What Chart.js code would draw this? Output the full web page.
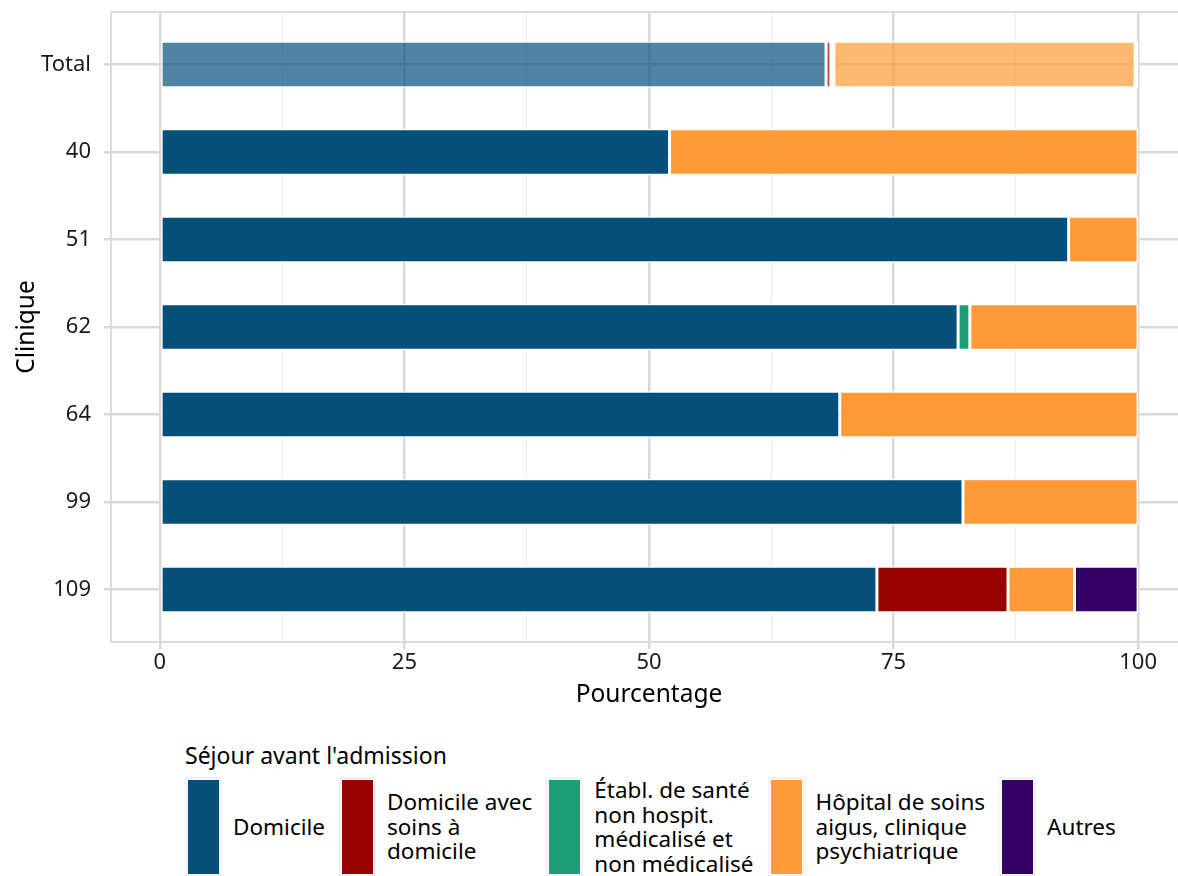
<!DOCTYPE html>
<html>
<head>
<meta charset="utf-8">
<script src="https://cdn.jsdelivr.net/npm/chart.js"></script>
<style>
  html, body { margin: 0; padding: 0; overflow: hidden; background: #fff; }
  #wrap { position: absolute; left: 0; top: 0; width: 1200px; height: 720px; }
  #legend { position: absolute; left: 185px; top: 740px; font-family: "Noto Sans", sans-serif; color: #000; }
  #legend .title { font-size: 23px; line-height: 30px; margin-bottom: 8px; }
  #legend .items { display: flex; align-items: center; }
  #legend .item { display: flex; align-items: center; margin-right: 14px; }
  #legend .key { width: 31px; height: 94px; margin: 0 14px 0 3px; outline: 2px solid #f2f2f2; outline-offset: 1px; }
  #legend .lab { font-size: 22.5px; line-height: 24.5px; }
</style>
</head>
<body>
<div id="wrap"><canvas id="sejourChart"></canvas></div>
<div id="legend"></div>
<script>
// Cliniques (de haut en bas)
const clinics = ['Total', '40', '51', '62', '64', '99', '109'];

// Part des séjours avant l'admission, en %
const domicile   = [68.1, 52.1, 92.9, 81.6, 69.5, 82.1, 73.3];
const soinsDom   = [0.5, 0, 0, 0, 0, 0, 13.4];
const etabl      = [0.3, 0, 0, 1.2, 0, 0, 0];
const hopital    = [30.8, 47.9, 7.1, 17.2, 30.5, 17.9, 6.8];
const autres     = [0.3, 0, 0, 0, 0, 0, 6.5];

const xTicks = [0, 12.5, 25, 37.5, 50, 62.5, 75, 87.5, 100];

const seriesNames = ['Domicile', 'Domicile avec\nsoins à\ndomicile', 'Établ. de santé\nnon hospit.\nmédicalisé et\nnon médicalisé', 'Hôpital de soins\naigus, clinique\npsychiatrique', 'Autres'];
const seriesColors = ['#05507b', '#990000', '#1c9e77', '#ff9a36', '#330066'];
const seriesData = [domicile, soinsDom, etabl, hopital, autres];

function hexToRgba(hex, a) {
    var r = parseInt(hex.substr(1, 2), 16), g = parseInt(hex.substr(3, 2), 16), b = parseInt(hex.substr(5, 2), 16);
    return 'rgba(' + r + ',' + g + ',' + b + ',' + a + ')';
}

const datasets = seriesData.map(function(vals, k) {
    return {
        label: seriesNames[k].replace(/\n/g, ' '),
        data: vals.map(function(v, i) { return { x: v, y: i }; }),
        // la ligne Total est légèrement transparente
        backgroundColor: vals.map(function(v, i) { return i === 0 ? hexToRgba(seriesColors[k], 0.7) : seriesColors[k]; }),
        borderColor: '#ffffff',
        borderWidth: 1.5,
        borderSkipped: false,
        barPercentage: 0.53,
        categoryPercentage: 1
    };
});

// bordure du panneau
const panelBorder = {
    id: 'panelBorder',
    beforeDatasetsDraw: function(chart) {
        var a = chart.chartArea, c = chart.ctx;
        c.save();
        c.strokeStyle = '#dcdcdc';
        c.lineWidth = 2;
        c.strokeRect(a.left, a.top, a.right - a.left, a.bottom - a.top);
        c.restore();
    }
};

const font = { family: '"Noto Sans", sans-serif', size: 22 };
const titleFont = { family: '"Noto Sans", sans-serif', size: 24.5 };

const ctx = document.getElementById('sejourChart').getContext('2d');
const sejourChart = new Chart(ctx, {
    type: 'bar',
    data: { datasets: datasets },
    plugins: [panelBorder],
    options: {
        indexAxis: 'y',
        responsive: true,
        maintainAspectRatio: false,
        animation: false,
        layout: { padding: { left: 0, top: 12, right: 13, bottom: 0 } },
        plugins: { legend: { display: false }, tooltip: { enabled: false } },
        scales: {
            x: {
                type: 'linear',
                min: -5,
                max: 105,
                stacked: true,
                afterBuildTicks: function(s) { s.ticks = xTicks.map(function(v) { return { value: v }; }); },
                afterFit: function(s) { s.height = 78; s.paddingLeft = 0; s.paddingRight = 0; },
                ticks: {
                    autoSkip: false,
                    maxRotation: 0,
                    padding: 1,
                    color: '#1a1a1a',
                    font: font,
                    callback: function(v) { return v % 25 === 0 ? String(v) : ''; }
                },
                grid: {
                    color: function(c) { return c.tick && c.tick.value % 25 === 0 ? '#d9d9d9' : '#ededed'; },
                    lineWidth: function(c) { return c.tick && c.tick.value % 25 === 0 ? 2.5 : 1; },
                    tickColor: function(c) { return c.tick && c.tick.value % 25 === 0 ? '#d9d9d9' : 'rgba(0,0,0,0)'; },
                    tickLength: 7
                },
                border: { display: false },
                title: { display: true, text: 'Pourcentage', color: '#000', font: titleFont, padding: { top: 0, bottom: 10 } }
            },
            y: {
                type: 'linear',
                reverse: true,
                offset: false,
                min: -0.6,
                max: 6.6,
                stacked: true,
                afterBuildTicks: function(s) { s.ticks = clinics.map(function(c, i) { return { value: i }; }); },
                afterFit: function(s) { s.width = 111; s.paddingTop = 0; s.paddingBottom = 0; },
                ticks: {
                    autoSkip: false,
                    padding: 13,
                    color: '#1a1a1a',
                    font: font,
                    callback: function(v) { return clinics[v]; }
                },
                grid: { offset: false, color: '#d9d9d9', lineWidth: 2.5, tickLength: 7 },
                border: { display: false },
                title: { display: true, text: 'Clinique', color: '#000', font: titleFont, padding: { top: 12, bottom: 0 } }
            }
        }
    }
});

// légende
var lg = document.getElementById('legend');
var html = '<div class="title">Séjour avant l\'admission</div><div class="items">';
seriesNames.forEach(function(n, k) {
    html += '<div class="item"><div class="key" style="background:' + seriesColors[k] + '"></div><div class="lab">' + n.replace(/\n/g, '<br>') + '</div></div>';
});
html += '</div>';
lg.innerHTML = html;
</script>
</body>
</html>
